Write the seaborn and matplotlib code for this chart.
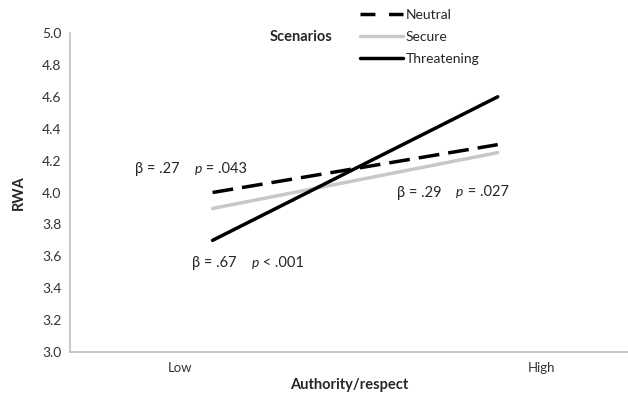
import matplotlib
matplotlib.use("Agg")
import matplotlib.pyplot as plt
import seaborn as sns
import pandas as pd
from matplotlib.lines import Line2D

categories = ["Low", "High"]
line_x = [0.09, 0.88]  # where the simple-slope lines sit relative to the category ticks
scenarios = ["Neutral", "Secure", "Threatening"]
neutral = [4.0, 4.3]
secure = [3.9, 4.25]
threatening = [3.7, 4.6]
annotations = [
    ("β = .27", "p", " = .043", -0.125, 4.15),
    ("β = .29", "p", " = .027", 0.60, 4.0),
    ("β = .67", "p", " < .001", 0.033, 3.56),
]

rows = []
for name, vals in zip(scenarios, [neutral, secure, threatening]):
    for xv, v in zip(line_x, vals):
        rows.append({"x": xv, "RWA": v, "Scenario": name})
df = pd.DataFrame(rows)

sns.set_theme(style="white")
plt.rcParams["font.family"] = ["Lato", "DejaVu Sans"]

fig = plt.figure(figsize=(6.28, 3.98), dpi=100)
ax = fig.add_axes([70 / 628, 1 - 352 / 398, 1 - 70 / 628, (352 - 33) / 398])

palette = {"Neutral": "black", "Secure": "#c8c8c8", "Threatening": "black"}
dashes = {"Neutral": (6, 2.6), "Secure": "", "Threatening": ""}
sns.lineplot(data=df, x="x", y="RWA", hue="Scenario", style="Scenario",
             palette=palette, dashes=dashes, linewidth=2.5, ax=ax, legend=False)

ax.set_xlim(-0.305, 1.241)
ax.set_ylim(3.0, 5.0)
ax.set_yticks([3.0 + 0.2 * i for i in range(11)])
ax.set_yticklabels([f"{3.0 + 0.2 * i:.1f}" for i in range(11)], fontsize=10, color="#333333")
ax.set_xticks([0, 1])
ax.set_xticklabels(categories, fontsize=9.5, color="#333333")
ax.tick_params(axis="both", length=0)
ax.tick_params(axis="x", pad=7)
ax.tick_params(axis="y", pad=6)
for s in ["top", "right"]:
    ax.spines[s].set_visible(False)
for s in ["left", "bottom"]:
    ax.spines[s].set_color("#bfbfbf")
    ax.spines[s].set_linewidth(1.2)

ax.set_xlabel("Authority/respect", fontsize=10.5, fontweight="bold", labelpad=3)
ax.set_ylabel("RWA", fontsize=10.5, fontweight="bold", labelpad=12)

fig.canvas.draw()
inv = ax.transData.inverted()
for beta, p, rest, xv, yv in annotations:
    t = ax.text(xv, yv, beta + "    ", fontsize=10.5, va="center", ha="left")
    bb = t.get_window_extent(renderer=fig.canvas.get_renderer())
    x2 = inv.transform((bb.x1, bb.y0))[0]
    t2 = ax.text(x2, yv, p, fontsize=10, style="italic", va="center", ha="left")
    bb2 = t2.get_window_extent(renderer=fig.canvas.get_renderer())
    x3 = inv.transform((bb2.x1, bb2.y0))[0]
    ax.text(x3, yv, rest, fontsize=10.5, va="center", ha="left")

handles = [
    Line2D([], [], color="black", lw=2.5, dashes=(4.3, 3.9)),
    Line2D([], [], color="#c8c8c8", lw=2.5),
    Line2D([], [], color="black", lw=2.5),
]
fig.legend(handles, scenarios, loc="upper left", bbox_to_anchor=(360 / 628, 1 - 9 / 398),
           frameon=False, fontsize=10, handlelength=3.1, handletextpad=0.2,
           labelspacing=0.72, borderaxespad=0, borderpad=0)
fig.text(301 / 628, 1 - 37 / 398, "Scenarios", fontsize=10.5, fontweight="bold",
         ha="center", va="center")

fig.savefig("out.png", dpi=100)
